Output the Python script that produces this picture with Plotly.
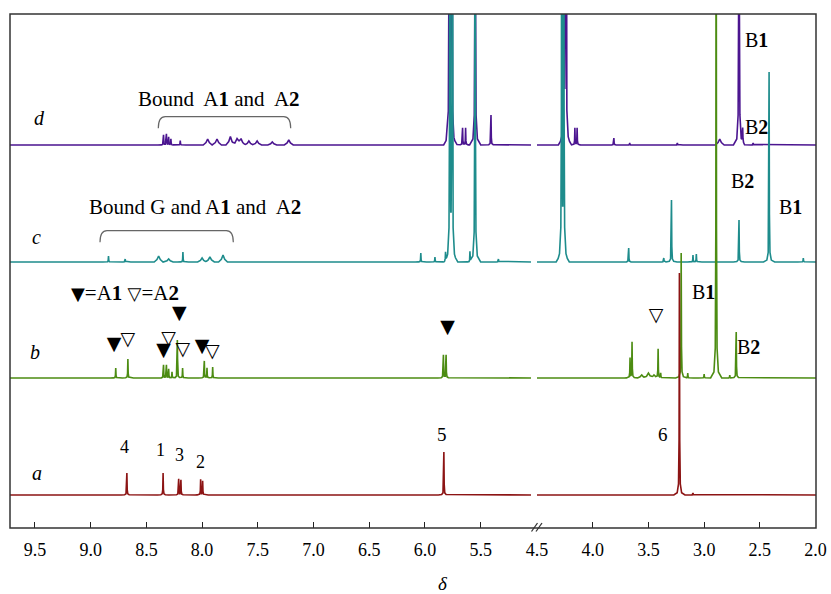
import numpy as np
import plotly.graph_objects as go

# ---------------- data (chemical shift ppm, relative intensity) ----------------
a_ppm = [8.675, 8.35, 8.21, 8.19, 8.013, 7.995, 5.83, 3.222, 3.10]
a_int = [22, 22, 16, 15, 15.5, 14, 43, 222, 2]
a_broad_ppm = []
a_broad_int = []

b_ppm = [8.775, 8.666, 8.346, 8.32, 8.30, 8.27, 8.222, 8.175, 7.98, 7.956, 7.905,
         5.834, 5.81,
         3.665, 3.647, 3.413, 3.39, 3.206, 3.147, 3.0, 2.892, 2.77, 2.712]
b_int = [10, 19, 13, 13, 9, 6, 38, 10, 17, 10, 11,
         23, 23,
         20, 36, 29, 5, 125, 5, 4, 600, 3, 46]
b_broad_ppm = [3.56, 3.50, 3.45]
b_broad_int = [3, 5, 3]

c_ppm = [8.84, 8.69, 8.172, 6.037, 5.91, 5.815, 5.776, 5.755, 5.596, 5.55, 5.34,
         4.278, 4.26, 3.677, 3.362, 3.293, 3.10, 3.07, 2.687, 2.417, 2.11]
c_int = [6, 3, 10, 9, 5, 8, 600, 600, 10, 600, 3,
         600, 600, 14, 4, 62, 7, 8, 42, 190, 4]
c_broad_ppm = [8.39, 8.30, 8.00, 7.93, 7.812]
c_broad_int = [6, 3, 4, 5, 7]

d_ppm = [8.346, 8.32, 8.30, 8.28, 8.196, 5.782, 5.76, 5.662, 5.635, 5.549, 5.407,
         4.258, 4.24, 4.16, 4.14, 3.81, 3.668, 3.24, 2.687, 2.654, 2.56]
d_int = [10, 11, 8, 6, 4.5, 600, 600, 17, 17, 600, 30,
         600, 600, 17, 17, 7, 2, 2, 600, 14, 2]
d_broad_ppm = [7.95, 7.866, 7.746, 7.686, 7.65, 7.58, 7.506, 7.37, 7.222, 2.86]
d_broad_int = [6, 6, 8.5, 6, 6, 4, 4, 3, 5, 6]

left_ticks = [9.5, 9.0, 8.5, 8.0, 7.5, 7.0, 6.5, 6.0, 5.5]
right_ticks = [4.5, 4.0, 3.5, 3.0, 2.5, 2.0]

# marker annotations on spectrum b (ppm, y in plot units)
a1_left_ppm = [8.79, 8.346, 8.205, 8.001, 5.797]
a1_left_y = [183, 176.3, 213.7, 180.3, 199.7]
a2_left_ppm = [8.667, 8.30, 8.173, 7.909]
a2_left_y = [188, 188.7, 177.3, 175.3]
a2_right_ppm = [3.432]
a2_right_y = [212]

# ---------------- layout constants (page pixels) ----------------
PAGE_W, PAGE_H = 831, 594
PL, PT, PR, PB = 10, 14, 816, 528   # plot box in page pixels
PW = PR - PL
PH = PB - PT
LEFT_RANGE = [9.724, 5.048]
RIGHT_RANGE = [4.5, 1.996]
OFFSETS = {"a": 33, "b": 150, "c": 266, "d": 383}
COLORS = {"a": "#8C1414", "b": "#4C8C12", "c": "#1E8C8C", "d": "#4B1590"}

SHARP_OFF = [0.05, 0.02, 0.008, 0.003, 0.0]
SHARP_FR = [0.0, 0.01, 0.05, 0.25, 1.0]
BROAD_OFF = [0.04, 0.015, 0.0]
BROAD_FR = [0.0, 0.4, 1.0]


def peak_shape(p, offs, frs):
    xs = [p - o for o in offs] + [p + o for o in reversed(offs[:-1])]
    fs = list(frs) + list(reversed(frs[:-1]))
    return np.array(xs), np.array(fs)


def spectrum(ppm, inten, bppm, bint, lo, hi):
    shapes = []
    for p, h in zip(ppm, inten):
        xs, fs = peak_shape(p, SHARP_OFF, SHARP_FR)
        shapes.append((xs, fs * h))
    for p, h in zip(bppm, bint):
        xs, fs = peak_shape(p, BROAD_OFF, BROAD_FR)
        shapes.append((xs, fs * h))
    grid = {lo, hi}
    for xs, _ in shapes:
        for v in xs:
            if lo <= v <= hi:
                grid.add(float(v))
    grid = np.array(sorted(grid))
    y = np.zeros_like(grid)
    for xs, ys in shapes:
        y += np.interp(grid, xs, ys, left=0, right=0)
    return grid, y


fig = go.Figure()
specs = [
    ("d", d_ppm, d_int, d_broad_ppm, d_broad_int),
    ("c", c_ppm, c_int, c_broad_ppm, c_broad_int),
    ("b", b_ppm, b_int, b_broad_ppm, b_broad_int),
    ("a", a_ppm, a_int, a_broad_ppm, a_broad_int),
]
for key, pp, ii, bp, bi in specs:
    for axis, rng in (("x", LEFT_RANGE), ("x2", RIGHT_RANGE)):
        lo, hi = min(rng), max(rng)
        gx, gy = spectrum(pp, ii, bp, bi, lo, hi)
        fig.add_trace(go.Scatter(
            x=gx, y=gy + OFFSETS[key], mode="lines", xaxis=axis, yaxis="y",
            line=dict(color=COLORS[key], width=1.6), hoverinfo="skip",
            showlegend=False))

TRI_FONT = dict(family="DejaVu Sans", size=19, color="black")
fig.add_trace(go.Scatter(x=a1_left_ppm, y=a1_left_y, mode="text", text=["▼"] * len(a1_left_ppm),
                         textfont=TRI_FONT, xaxis="x", yaxis="y", showlegend=False, hoverinfo="skip"))
fig.add_trace(go.Scatter(x=a2_left_ppm, y=a2_left_y, mode="text", text=["▽"] * len(a2_left_ppm),
                         textfont=TRI_FONT, xaxis="x", yaxis="y", showlegend=False, hoverinfo="skip"))
fig.add_trace(go.Scatter(x=a2_right_ppm, y=a2_right_y, mode="text", text=["▽"] * len(a2_right_ppm),
                         textfont=TRI_FONT, xaxis="x2", yaxis="y", showlegend=False, hoverinfo="skip"))


def pxx(xp):
    return (xp - PL) / PW


def pxy(yp):
    return (PB - yp) / PH


SERIF = "Liberation Serif"
TICKFONT = dict(family=SERIF, size=18, color="black")
axis_common = dict(ticks="inside", ticklen=6, tickwidth=1.2, tickcolor="#222",
                   showgrid=False, zeroline=False, showline=False, tickfont=TICKFONT,
                   anchor="y", ticklabelstandoff=9, automargin=False)
fig.update_layout(
    width=PAGE_W, height=PAGE_H,
    margin=dict(l=PL, r=PAGE_W - PR, t=PT, b=PAGE_H - PB, autoexpand=False, pad=0),
    font=dict(family=SERIF, color="black"),
    paper_bgcolor="white", plot_bgcolor="white",
    xaxis=dict(domain=[0, (531 - PL) / PW], range=LEFT_RANGE, tickvals=left_ticks,
               ticktext=[f"{v:.1f}" for v in left_ticks], **axis_common),
    xaxis2=dict(domain=[(537 - PL) / PW, 1], range=RIGHT_RANGE, tickvals=right_ticks,
                ticktext=[f"{v:.1f}" for v in right_ticks], **axis_common),
    yaxis=dict(range=[0, PH], visible=False, domain=[0, 1], anchor="x", automargin=False),
)

shapes = [dict(type="rect", xref="paper", yref="paper", x0=0, x1=1, y0=0, y1=1,
               line=dict(color="#333", width=1.5))]
# axis break marks
for x0 in (531.5, 536):
    shapes.append(dict(type="line", xref="paper", yref="paper",
                       x0=pxx(x0), y0=pxy(531.5), x1=pxx(x0 + 6), y1=pxy(523),
                       line=dict(color="#333", width=1.3)))


def bracket(x0, x1, ytop, ybot, r=7):
    return (f"M {pxx(x0)},{pxy(ybot)} Q {pxx(x0)},{pxy(ytop)} {pxx(x0 + r)},{pxy(ytop)} "
            f"L {pxx(x1 - r)},{pxy(ytop)} Q {pxx(x1)},{pxy(ytop)} {pxx(x1)},{pxy(ybot)}")


shapes.append(dict(type="path", xref="paper", yref="paper",
                   path=bracket(158.3, 290.7, 116.7, 128.3), line=dict(color="#666", width=1.2)))
shapes.append(dict(type="path", xref="paper", yref="paper",
                   path=bracket(100, 233.3, 230.7, 242.3), line=dict(color="#666", width=1.2)))
fig.update_layout(shapes=shapes)

ann = []


def add(text, xp, yp, size=19, family=SERIF):
    ann.append(dict(text=text, x=pxx(xp), y=pxy(yp), xref="paper", yref="paper",
                    showarrow=False, xanchor="center", yanchor="middle",
                    font=dict(family=family, size=size, color="black")))


TRI = "<span style='font-family:DejaVu Sans;font-size:18px'>{}</span>"
add("<i>d</i>", 39, 118, 20)
add("<i>c</i>", 36, 237, 20)
add("<i>b</i>", 35, 352, 20)
add("<i>a</i>", 37, 473, 20)
add("Bound  A<b>1</b> and  A<b>2</b>", 218.5, 99, 21)
add("Bound G and A<b>1</b> and  A<b>2</b>", 194.5, 207, 21)
add(TRI.format("▼") + "=A<b>1</b> " + TRI.format("▽") + "=A<b>2</b>", 125, 293, 21)
add("4", 125, 447, 18)
add("1", 160, 450, 18)
add("3", 179, 455, 18)
add("2", 200, 462, 18)
add("5", 442, 434, 19)
add("6", 663, 434, 19)
add("B<b>1</b>", 756, 40, 20)
add("B<b>2</b>", 756, 127, 20)
add("B<b>2</b>", 742, 181, 20)
add("B<b>1</b>", 790, 207, 20)
add("B<b>1</b>", 703, 292, 20)
add("B<b>2</b>", 748, 347, 20)
add("<i>δ</i>", 443, 583, 19)
fig.update_layout(annotations=ann)

fig.write_html("out.html", config={"displayModeBar": False},
               post_script="document.body.style.margin='0px';document.body.style.overflow='hidden';")
